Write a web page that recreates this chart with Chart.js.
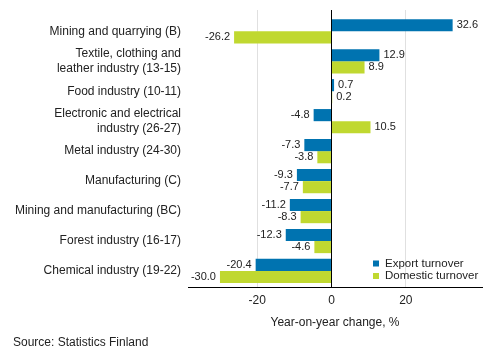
<!DOCTYPE html>
<html>
<head>
<meta charset="utf-8">
<script src="https://cdn.jsdelivr.net/npm/chart.js@4"></script>
<style>
  html, body { margin: 0; padding: 0; background: #fff; }
  #wrap { width: 493px; height: 360px; position: relative; }
</style>
</head>
<body>
<div id="wrap"><canvas id="myChart" width="493" height="360"></canvas></div>
<script>
// Categories and values
const categories = [
  "Mining and quarrying (B)",
  ["Textile, clothing and", "leather industry (13-15)"],
  "Food industry (10-11)",
  ["Electronic and electrical", "industry (26-27)"],
  "Metal industry (24-30)",
  "Manufacturing (C)",
  "Mining and manufacturing (BC)",
  "Forest industry (16-17)",
  "Chemical industry (19-22)"
];
const exportTurnover = [32.6, 12.9, 0.7, -4.8, -7.3, -9.3, -11.2, -12.3, -20.4];
const domesticTurnover = [-26.2, 8.9, 0.2, 10.5, -3.8, -7.7, -8.3, -4.6, -30.0];
const xTicks = [-20, 0, 20];
const seriesNames = ["Export turnover", "Domestic turnover"];

const BLUE = "#0073b0";
const GREEN = "#c0d830";
const FONT = "'Liberation Sans', Arial, sans-serif";
const TEXT = "#222";

Chart.defaults.font.family = FONT;
Chart.defaults.font.size = 12;
Chart.defaults.color = TEXT;

// value labels next to the bar ends
const barLabels = {
  id: "barLabels",
  afterDatasetsDraw(chart) {
    const ctx = chart.ctx;
    ctx.save();
    ctx.font = "11px " + FONT;
    ctx.fillStyle = TEXT;
    ctx.textBaseline = "middle";
    chart.data.datasets.forEach((ds, i) => {
      chart.getDatasetMeta(i).data.forEach((bar, j) => {
        const v = ds.data[j];
        if (v >= 0) {
          ctx.textAlign = "left";
          ctx.fillText(v.toFixed(1), bar.x + 4, bar.y);
        } else {
          ctx.textAlign = "right";
          ctx.fillText(v.toFixed(1), bar.x - 4, bar.y);
        }
      });
    });
    ctx.restore();
  }
};

// legend inside the plot and the source line
const extras = {
  id: "extras",
  afterDraw(chart) {
    const ctx = chart.ctx;
    ctx.save();
    ctx.font = "11.5px " + FONT;
    ctx.textBaseline = "middle";
    ctx.textAlign = "left";
    const colors = [BLUE, GREEN];
    seriesNames.forEach((name, i) => {
      const y = 263.5 + i * 12.5;
      ctx.fillStyle = colors[i];
      ctx.fillRect(373, y - 3, 6, 6);
      ctx.fillStyle = TEXT;
      ctx.fillText(name, 385, y);
    });

    ctx.font = "12px " + FONT;
    ctx.fillText("Source: Statistics Finland", 13, 343);
    ctx.restore();
  }
};

const chart = new Chart(document.getElementById("myChart").getContext("2d"), {
  type: "bar",
  data: {
    labels: categories,
    datasets: [
      { label: seriesNames[0], data: exportTurnover, backgroundColor: BLUE },
      { label: seriesNames[1], data: domesticTurnover, backgroundColor: GREEN }
    ]
  },
  options: {
    indexAxis: "y",
    responsive: false,
    animation: false,
    devicePixelRatio: 1,
    layout: { padding: { top: 10, right: 11, left: 0, bottom: 30 } },
    datasets: { bar: { categoryPercentage: 0.81, barPercentage: 1.0 } },
    plugins: {
      legend: { display: false },
      tooltip: { enabled: false }
    },
    scales: {
      x: {
        min: -38.6,
        max: 40.5,
        afterBuildTicks: s => { s.ticks = xTicks.map(v => ({ value: v })); },
        afterFit: s => { s.height = 43; },
        border: { display: true, color: "#000", width: 1 },
        grid: {
          drawTicks: false,
          color: c => c.tick && c.tick.value === 0 ? "#000" : "#e0e0e0",
          lineWidth: 1
        },
        ticks: { padding: 6, color: TEXT, font: { size: 12 } },
        title: {
          display: true,
          text: "Year-on-year change, %",
          color: TEXT,
          font: { size: 12 },
          padding: { top: 8, bottom: 0 }
        }
      },
      y: {
        afterFit: s => {
          s.width = 188;
          s.paddingTop = 0;
          s.paddingBottom = 0;
        },
        // leave a little more room above the first category than below the last
        afterUpdate: s => {
          s._startValue = -0.712;
          s._valueRange = s.height / 29.5;
        },
        border: { display: false },
        grid: { display: false, drawTicks: false },
        ticks: { padding: 7, autoSkip: false, color: TEXT, font: { size: 12 } }
      }
    }
  },
  plugins: [barLabels, extras]
});
</script>
</body>
</html>
